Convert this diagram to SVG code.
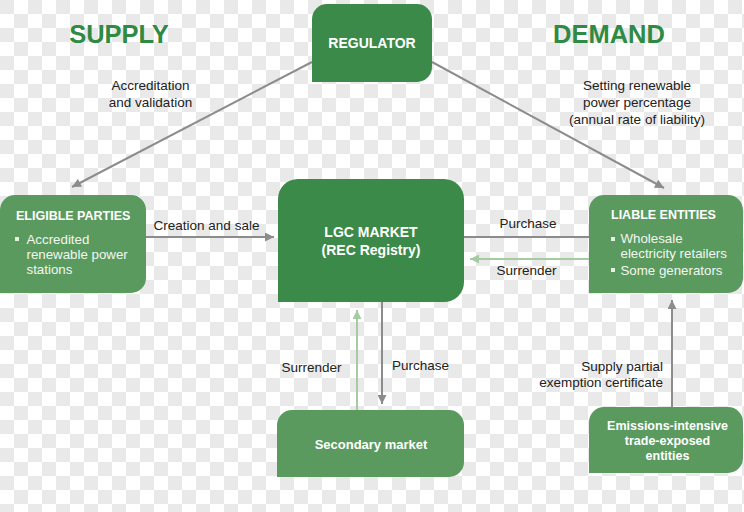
<svg xmlns="http://www.w3.org/2000/svg" width="744" height="512" viewBox="0 0 744 512">
<defs>
<pattern id="chk" x="0" y="0" width="28" height="28" patternUnits="userSpaceOnUse">
<rect x="0" y="0" width="28" height="28" fill="#ffffff"/>
<rect x="0" y="0" width="14" height="14" fill="#e9e9e9"/>
<rect x="14" y="14" width="14" height="14" fill="#e9e9e9"/>
</pattern>
<marker id="ag" viewBox="0 0 10 10" refX="10" refY="5" markerWidth="10" markerHeight="9" markerUnits="userSpaceOnUse" orient="auto">
<path d="M0,0 L10,5 L0,10 Z" fill="#8c8c8c"/>
</marker>
<marker id="al" viewBox="0 0 10 10" refX="10" refY="5" markerWidth="10" markerHeight="9" markerUnits="userSpaceOnUse" orient="auto">
<path d="M0,0 L10,5 L0,10 Z" fill="#a6cba3"/>
</marker>
</defs>
<style>
.dark{fill:#3b8a49}
.light{fill:#5b9a5f}
.wt{fill:#ffffff;font-family:"Liberation Sans",Arial,sans-serif;font-weight:bold}
.wn{fill:#f2f7f0;font-family:"Liberation Sans",Arial,sans-serif;font-size:13.3px}
.lbl{fill:#222222;font-family:"Liberation Sans",Arial,sans-serif;font-size:13.5px}
.hd{fill:#2f8a43;font-family:"Liberation Sans",Arial,sans-serif;font-weight:bold;font-size:25.5px}
.g{stroke:#8c8c8c;stroke-width:2;fill:none}
.l{stroke:#a6cba3;stroke-width:2;fill:none}
</style>
<rect x="0" y="0" width="744" height="512" fill="url(#chk)"/>
<text class="hd" x="119" y="43" text-anchor="middle">SUPPLY</text>
<text class="hd" x="609" y="43" text-anchor="middle">DEMAND</text>
<g id="connectors">
<path class="g" d="M312,62 L72,187" marker-end="url(#ag)"/>
<path class="g" d="M432,62 L664,188" marker-end="url(#ag)"/>
<path class="g" d="M146,237 L274,237" marker-end="url(#ag)"/>
<path class="g" d="M589,237 L464,237"/>
<path class="l" d="M589,259 L470,259" marker-end="url(#al)"/>
<path class="g" d="M382,302 L382,404" marker-end="url(#ag)"/>
<path class="l" d="M357,410 L357,310" marker-end="url(#al)"/>
<path class="g" d="M672,407 L672,300" marker-end="url(#ag)"/>
<text class="lbl" x="150.5" y="90" text-anchor="middle">Accreditation</text>
<text class="lbl" x="150.5" y="107" text-anchor="middle">and validation</text>
<text class="lbl" x="637" y="90" text-anchor="middle">Setting renewable</text>
<text class="lbl" x="637" y="107" text-anchor="middle">power percentage</text>
<text class="lbl" x="637" y="123.5" text-anchor="middle">(annual rate of liability)</text>
<text class="lbl" x="206.5" y="229.5" text-anchor="middle">Creation and sale</text>
<text class="lbl" x="528" y="228" text-anchor="middle">Purchase</text>
<text class="lbl" x="526.5" y="275" text-anchor="middle">Surrender</text>
<text class="lbl" x="311.5" y="371.5" text-anchor="middle">Surrender</text>
<text class="lbl" x="420.5" y="370" text-anchor="middle">Purchase</text>
<text class="lbl" x="663" y="371" text-anchor="end">Supply partial</text>
<text class="lbl" x="663" y="387" text-anchor="end">exemption certificate</text>
</g>
<g id="regulator">
<path class="dark" d="M327,4 H417 A15,15 0 0 1 432,19 V67 A15,15 0 0 1 417,82 H312 V19 A15,15 0 0 1 327,4 Z"/>
<text class="wt" x="372" y="48" text-anchor="middle" font-size="14">REGULATOR</text>
</g>
<g id="eligible-parties">
<path class="light" d="M15,195 H131 A15,15 0 0 1 146,210 V278 A15,15 0 0 1 131,293 H0 V210 A15,15 0 0 1 15,195 Z"/>
<text class="wt" x="16" y="219.5" font-size="12.5">ELIGIBLE PARTIES</text>
<rect x="15" y="237" width="4" height="4" fill="#e8f0e6"/>
<text class="wn" x="26.5" y="244">Accredited</text>
<text class="wn" x="26.5" y="259">renewable power</text>
<text class="wn" x="26.5" y="273.5">stations</text>
</g>
<g id="lgc-market">
<path class="dark" d="M298,179 H444 A20,20 0 0 1 464,199 V282 A20,20 0 0 1 444,302 H278 V199 A20,20 0 0 1 298,179 Z"/>
<text class="wt" x="371" y="236.5" text-anchor="middle" font-size="14">LGC MARKET</text>
<text class="wt" x="371" y="255" text-anchor="middle" font-size="14">(REC Registry)</text>
</g>
<g id="liable-entities">
<path class="light" d="M604,195 H728 A15,15 0 0 1 743,210 V278 A15,15 0 0 1 728,293 H589 V210 A15,15 0 0 1 604,195 Z"/>
<text class="wt" x="611" y="219" font-size="12.5">LIABLE ENTITIES</text>
<rect x="611" y="237" width="4" height="4" fill="#e8f0e6"/>
<text class="wn" x="620.5" y="243">Wholesale</text>
<text class="wn" x="620.5" y="257.5">electricity retailers</text>
<rect x="611" y="268" width="4" height="4" fill="#e8f0e6"/>
<text class="wn" x="620.5" y="274.5">Some generators</text>
</g>
<g id="secondary-market">
<path class="light" d="M292,410 H449 A15,15 0 0 1 464,425 V462 A15,15 0 0 1 449,477 H277 V425 A15,15 0 0 1 292,410 Z"/>
<text class="wt" x="371" y="448.5" text-anchor="middle" font-size="13">Secondary market</text>
</g>
<g id="eite">
<path class="light" d="M604,407 H728 A15,15 0 0 1 743,422 V458 A15,15 0 0 1 728,473 H589 V422 A15,15 0 0 1 604,407 Z"/>
<text class="wt" x="667.5" y="430" text-anchor="middle" font-size="12.5">Emissions-intensive</text>
<text class="wt" x="667.5" y="445" text-anchor="middle" font-size="12.5">trade-exposed</text>
<text class="wt" x="667.5" y="460" text-anchor="middle" font-size="12.5">entities</text>
</g>
</svg>
